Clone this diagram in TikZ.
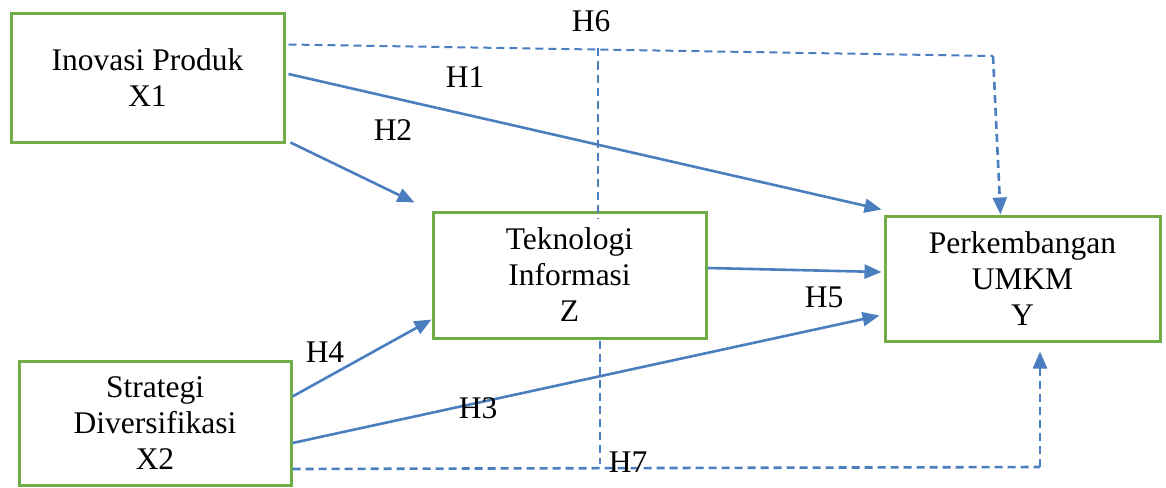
\documentclass[tikz,border=0pt]{standalone}
\usepackage{fontspec}
\setmainfont{Liberation Serif}
\usetikzlibrary{arrows.meta}
\definecolor{boxgreen}{RGB}{112,173,71}
\definecolor{linkblue}{RGB}{74,126,190}
\tikzset{
  varbox/.style={draw=boxgreen, line width=3pt, fill=white, align=center,
    inner sep=0pt, font=\fontsize{31.5}{36}\selectfont},
  hlabel/.style={inner sep=0pt, font=\fontsize{31.5}{36}\selectfont},
  link/.style={draw=linkblue, line width=2.6pt,
    -{Triangle[length=17pt,width=14pt]}},
  dlink/.style={link, dash pattern=on 8pt off 5pt},
  stub/.style={draw=linkblue, line width=2pt, dash pattern=on 8pt off 5pt}
}
\begin{document}
\begin{tikzpicture}[x=1pt,y=-1pt]
\useasboundingbox (0,0) rectangle (1166,487);

% variables
\node[varbox, minimum width=273pt, minimum height=128pt] (X1) at (147.5,78)
  {Inovasi Produk\\X1};
\node[varbox, minimum width=273pt, minimum height=126pt] (Z) at (569.5,275)
  {Teknologi\\Informasi\\Z};
\node[varbox, minimum width=275pt, minimum height=125pt] (Y) at (1022.5,278.5)
  {Perkembangan\\UMKM\\Y};
\node[varbox, minimum width=272pt, minimum height=124pt] (X2) at (155,423)
  {Strategi\\Diversifikasi\\X2};

% corner points of the dashed paths
\coordinate (h6c) at (993,56);
\coordinate (h7c) at (1040,467);

% direct effects
\draw[link] ([xshift=3pt,yshift=4pt]X1.east) -- ([xshift=-2pt,yshift=5pt]Y.north west);
\draw[link] ([xshift=5pt,yshift=1pt]X1.south east) -- ([xshift=-17pt,yshift=8pt]Z.north west);
\draw[link] ([yshift=-37pt]X2.north east) -- ([yshift=20pt]Z.south west);
\draw[link] ([yshift=7pt]Z.east) -- ([xshift=-2pt,yshift=6.5pt]Y.west);
\draw[link] ([yshift=-20pt]X2.east) -- ([xshift=-4pt,yshift=27pt]Y.south west);

% mediated effects
\draw[stub] ([xshift=3pt,yshift=-32pt]X1.north east) -- (h6c);
\draw[dlink] (h6c) -- ([xshift=117pt]Y.north west);
\draw[stub] ([xshift=28.5pt,yshift=162pt]Z.north) -- ([xshift=28.5pt,yshift=-8pt]Z.north);
\draw[stub] ([xshift=30.5pt,yshift=-1pt]Z.south) -- ([xshift=30.5pt,yshift=-124pt]Z.south);
\draw[dlink, -] ([yshift=-46pt]X2.east) -- (h7c);
\draw[dlink] (h7c) -- ([xshift=17.5pt,yshift=-9pt]Y.south);

% hypothesis labels
\node[hlabel] (h6) at (591,21) {H6};
\node[hlabel] (h1) at (465,77) {H1};
\node[hlabel] (h2) at (393,130) {H2};
\node[hlabel] (h4) at (325,352) {H4};
\node[hlabel] (h3) at (478,408) {H3};
\node[hlabel] (h5) at (824,297) {H5};
\node[hlabel] (h7) at (628,462) {H7};
\end{tikzpicture}
\end{document}
